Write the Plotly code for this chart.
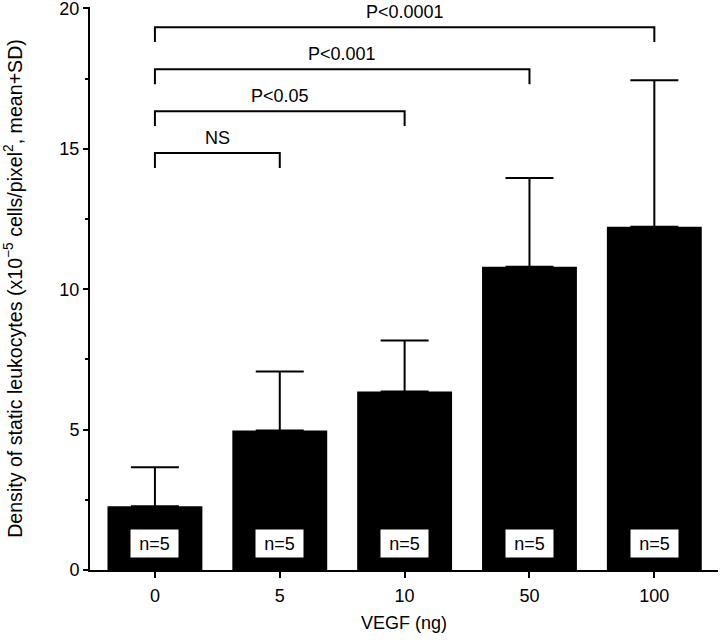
import plotly.graph_objects as go

# ---- data ----
categories = ["0", "5", "10", "50", "100"]
means = [2.27, 4.97, 6.36, 10.80, 12.22]
sds = [1.39, 2.10, 1.81, 3.16, 5.22]
n_labels = ["n=5", "n=5", "n=5", "n=5", "n=5"]

# significance brackets: (from category, to category, label)
bracket_from = ["0", "0", "0", "0"]
bracket_to = ["5", "10", "50", "100"]
bracket_labels = ["NS", "P<0.05", "P<0.001", "P<0.0001"]
bracket_heights = [14.85, 16.34, 17.83, 19.33]

y_ticks = [0, 5, 10, 15, 20]

FONT = "Liberation Sans, Arial, Helvetica, sans-serif"

fig = go.Figure()
fig.add_trace(go.Bar(
    x=categories, y=means, width=0.76,
    marker=dict(color="black", line=dict(width=0)),
    error_y=dict(type="data", array=sds, arrayminus=[0] * len(sds), symmetric=False,
                 color="black", thickness=2, width=24),
    showlegend=False,
))

idx = {c: i for i, c in enumerate(categories)}
drop = 0.53
for f, t, lab, h in zip(bracket_from, bracket_to, bracket_labels, bracket_heights):
    x0, x1 = idx[f], idx[t]
    fig.add_shape(type="path",
                  path=f"M {x0} {h - drop} L {x0} {h} L {x1} {h} L {x1} {h - drop}",
                  xref="x", yref="y", line=dict(color="black", width=2))
    fig.add_annotation(x=(x0 + x1) / 2, y=h, xref="x", yref="y", text=lab,
                       showarrow=False, yanchor="bottom", yshift=3,
                       font=dict(family=FONT, size=18, color="black"))

for c, lab in zip(categories, n_labels):
    fig.add_annotation(x=idx[c], y=0.96, xref="x", yref="y", text=lab, showarrow=False,
                       yanchor="middle", bgcolor="white", width=47, height=27,
                       borderpad=0, font=dict(family=FONT, size=18, color="black"))

fig.update_layout(
    width=720, height=643,
    margin=dict(l=90, r=2, t=7, b=73),
    paper_bgcolor="white", plot_bgcolor="white",
    font=dict(family=FONT, size=18, color="black"),
    bargap=0.24,
)
fig.update_xaxes(
    type="category", range=[-0.52, 4.51], automargin=False,
    showline=True, linecolor="black", linewidth=2,
    ticks="outside", ticklen=6, tickwidth=2, tickcolor="black",
    ticklabelstandoff=2,
    showgrid=False, zeroline=False,
    title=dict(text="VEGF (ng)", font=dict(size=18), standoff=12),
)
fig.update_yaxes(
    range=[0, 20.05], tickvals=y_ticks, automargin=False, ticklabeloverflow="allow",
    showline=True, linecolor="black", linewidth=2,
    ticks="outside", ticklen=5, tickwidth=2, tickcolor="black",
    minor=dict(tickvals=[2.5, 7.5, 12.5, 17.5], ticks="outside", ticklen=3, tickwidth=2,
               tickcolor="black", showgrid=False),
    showgrid=False, zeroline=False,
    title=dict(text="Density of static leukocytes (x10<sup>\u22125</sup> cells/pixel<sup>2</sup>, mean+SD)",
               font=dict(size=19.6), standoff=32),
)

# remove the default 8px page margin so the figure fills the 720x643 window
fig.write_html("out.html", config={"displayModeBar": False},
               post_script="document.body.style.margin='0';")
